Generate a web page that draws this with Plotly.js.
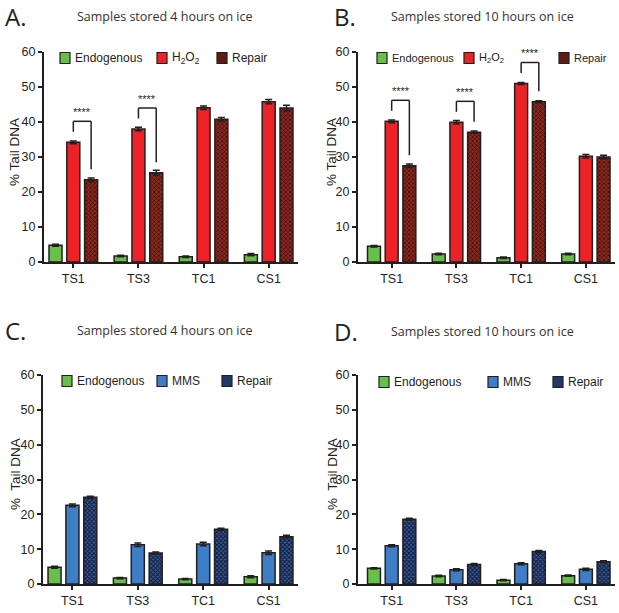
<!DOCTYPE html>
<html>
<head>
<meta charset="utf-8">
<script src="https://cdn.plot.ly/plotly-3.0.1.min.js"></script>
<style>
  body { margin: 0; background: #fff; }
  #chart { width: 619px; height: 613px; }
</style>
</head>
<body>
<div id="chart"></div>
<script>
var W = 619, H = 613;

var categories = ['TS1', 'TS3', 'TC1', 'CS1'];

// A: 4 hours, H2O2
var endoA = [4.8, 1.7, 1.5, 2.1];
var endoAErr = [0.3, 0.2, 0.2, 0.3];
var h2o2A = [34.2, 38.0, 44.1, 45.8];
var h2o2AErr = [0.4, 0.5, 0.5, 0.6];
var repA = [23.5, 25.5, 40.8, 44.0];
var repAErr = [0.5, 0.7, 0.5, 0.8];

// B: 10 hours, H2O2
var endoB = [4.5, 2.3, 1.2, 2.3];
var endoBErr = [0.2, 0.2, 0.2, 0.2];
var h2o2B = [40.2, 39.9, 51.0, 30.2];
var h2o2BErr = [0.4, 0.5, 0.3, 0.5];
var repB = [27.5, 37.1, 45.8, 30.0];
var repBErr = [0.5, 0.3, 0.3, 0.5];

// C: 4 hours, MMS
var endoC = [4.8, 1.7, 1.4, 2.1];
var endoCErr = [0.3, 0.2, 0.2, 0.3];
var mmsC = [22.6, 11.3, 11.5, 9.0];
var mmsCErr = [0.4, 0.5, 0.5, 0.5];
var repC = [24.9, 8.9, 15.7, 13.6];
var repCErr = [0.3, 0.3, 0.3, 0.4];

// D: 10 hours, MMS
var endoD = [4.5, 2.3, 1.1, 2.4];
var endoDErr = [0.2, 0.2, 0.2, 0.2];
var mmsD = [11.0, 4.1, 5.8, 4.2];
var mmsDErr = [0.3, 0.3, 0.3, 0.3];
var repD = [18.6, 5.6, 9.3, 6.4];
var repDErr = [0.3, 0.3, 0.3, 0.3];

// significance brackets: category index, between 2nd and 3rd bar
var sigA = [0, 1];
var sigB = [0, 1, 2];

var INK = '#231f20';
var GREEN = '#66c04a';
var RED = '#ec2227';
var BLUE = '#3d7ec6';
var BARGAP = 0.18, GROUPGAP = 0.27;
var SANS = 'Liberation Sans, Arial, sans-serif';

function px(x){ return x / W; }
function py(y){ return 1 - y / H; }

var panels = [
  {letter: 'A.', title: 'Samples stored 4 hours on ice', ax: '', x0: 44, x1: 298, ytop: 52, ybot: 262, xmin: -0.45,
   titleX: 165, titleY: 17, letterX: 3, ytitleX: 15, ytitleY: 152, ytitle: '% Tail DNA',
   series: [endoA, h2o2A, repA], errs: [endoAErr, h2o2AErr, repAErr],
   names: ['Endogenous', 'H<sub>2</sub>O<sub>2</sub>', 'Repair'], treat: RED, rep: 'brown',
   legX: [60, 157, 217], legY: 58, legSize: 12, sig: sigA},
  {letter: 'B.', title: 'Samples stored 10 hours on ice', ax: '2', x0: 358, x1: 615, ytop: 52, ybot: 262, xmin: -0.52,
   titleX: 482, titleY: 17, letterX: 332, ytitleX: 332, ytitleY: 152, ytitle: '% Tail DNA',
   series: [endoB, h2o2B, repB], errs: [endoBErr, h2o2BErr, repBErr],
   names: ['Endogenous', 'H<sub>2</sub>O<sub>2</sub>', 'Repair'], treat: RED, rep: 'brown',
   legX: [377, 464, 559], legY: 58, legSize: 11, sig: sigB},
  {letter: 'C.', title: 'Samples stored 4 hours on ice', ax: '3', x0: 43, x1: 298, ytop: 375, ybot: 584, xmin: -0.45,
   titleX: 165, titleY: 330, letterX: 3, ytitleX: 15, ytitleY: 474, ytitle: '%\u00a0 Tail DNA',
   series: [endoC, mmsC, repC], errs: [endoCErr, mmsCErr, repCErr],
   names: ['Endogenous', 'MMS', 'Repair'], treat: BLUE, rep: 'navy',
   legX: [62, 157, 222], legY: 381, legSize: 12, sig: []},
  {letter: 'D.', title: 'Samples stored 10 hours on ice', ax: '4', x0: 358, x1: 615, ytop: 375, ybot: 584, xmin: -0.52,
   titleX: 482, titleY: 331, letterX: 332, ytitleX: 332, ytitleY: 474, ytitle: '%\u00a0 Tail DNA',
   series: [endoD, mmsD, repD], errs: [endoDErr, mmsDErr, repDErr],
   names: ['Endogenous', 'MMS', 'Repair'], treat: BLUE, rep: 'navy',
   legX: [379, 488, 553], legY: 382, legSize: 12, sig: []}
];

var repStyles = {
  brown: {color: '#7a2219', pattern: {shape: 'x', fgcolor: '#3b0c08', bgcolor: '#8e2a20', size: 3, solidity: 0.45}, swatch: '#5e1a14'},
  navy: {color: '#1f3566', pattern: {shape: 'x', fgcolor: '#0c1630', bgcolor: '#3a5a99', size: 3, solidity: 0.5}, swatch: '#22386a'}
};

var traces = [];
var shapes = [];
var annotations = [];
var layout = {
  width: W, height: H,
  margin: {l: 0, r: 0, t: 0, b: 0},
  paper_bgcolor: '#fff', plot_bgcolor: '#fff',
  showlegend: false,
  barmode: 'group', bargap: BARGAP, bargroupgap: GROUPGAP,
  font: {family: SANS, color: INK}
};

var slot = (1 - BARGAP) / 3;

panels.forEach(function(p){
  var xa = 'x' + p.ax, ya = 'y' + p.ax;
  var colors = [GREEN, p.treat, repStyles[p.rep].color];

  p.series.forEach(function(vals, k){
    var marker = {color: colors[k], line: {color: INK, width: 1.5}};
    if (k == 2) marker.pattern = repStyles[p.rep].pattern;
    traces.push({
      type: 'bar', x: categories, y: vals, name: p.names[k],
      xaxis: xa, yaxis: ya, marker: marker,
      error_y: {type: 'data', array: p.errs[k], visible: true, color: INK, thickness: 1.5, width: 3.5}
    });
  });

  layout['xaxis' + p.ax] = {
    domain: [px(p.x0), px(p.x1)], anchor: ya, type: 'category',
    range: [p.xmin, 3.45],
    showline: true, linecolor: INK, linewidth: 2,
    ticks: 'outside', ticklen: 4, tickwidth: 2, tickcolor: INK,
    showgrid: false, zeroline: false, fixedrange: true,
    tickfont: {family: SANS, size: 12.5, color: INK}
  };
  layout['yaxis' + p.ax] = {
    domain: [py(p.ybot), py(p.ytop)], anchor: xa,
    range: [0, 60], dtick: 10,
    showline: true, linecolor: INK, linewidth: 2,
    ticks: 'outside', ticklen: 4, tickwidth: 2, tickcolor: INK,
    showgrid: false, zeroline: false, fixedrange: true,
    tickfont: {family: SANS, size: 12.5, color: INK}
  };

  // panel letter, title, y title
  annotations.push({xref: 'paper', yref: 'paper', x: px(p.letterX), y: py(p.titleY), xanchor: 'left', yanchor: 'middle',
    text: p.letter, showarrow: false, font: {family: 'Open Sans, Liberation Sans, sans-serif', size: 24, color: INK}});
  annotations.push({xref: 'paper', yref: 'paper', x: px(p.titleX), y: py(p.titleY), xanchor: 'center', yanchor: 'middle',
    text: p.title, showarrow: false, font: {family: 'Open Sans, Liberation Sans, sans-serif', size: 12.5, color: '#333'}});
  annotations.push({xref: 'paper', yref: 'paper', x: px(p.ytitleX), y: py(p.ytitleY), xanchor: 'center', yanchor: 'middle',
    text: p.ytitle, textangle: -90, showarrow: false, font: {family: SANS, size: 13.5, color: INK}});

  // legend
  p.names.forEach(function(n, k){
    var lx = p.legX[k], ly = p.legY;
    shapes.push({type: 'rect', xref: 'paper', yref: 'paper',
      x0: px(lx), x1: px(lx + 10), y0: py(ly + 5.5), y1: py(ly - 5.5),
      fillcolor: k == 2 ? repStyles[p.rep].swatch : colors[k], line: {color: INK, width: 1.2}});
    annotations.push({xref: 'paper', yref: 'paper', x: px(lx + 13), y: py(ly), xanchor: 'left', yanchor: 'middle',
      text: n, showarrow: false, font: {family: SANS, size: p.legSize, color: INK}});
  });

  // significance brackets between treatment and repair bars
  p.sig.forEach(function(i){
    var a = p.series[1][i], b = p.series[2][i];
    var top = Math.max(a, b) + 6;
    var xl = i, xr = i + slot;
    var line = {color: INK, width: 1.5};
    shapes.push({type: 'line', xref: xa, yref: ya, x0: xl, x1: xr, y0: top, y1: top, line: line});
    shapes.push({type: 'line', xref: xa, yref: ya, x0: xl, x1: xl, y0: top, y1: a + 3, line: line});
    shapes.push({type: 'line', xref: xa, yref: ya, x0: xr, x1: xr, y0: top, y1: b + 3, line: line});
    annotations.push({xref: xa, yref: ya, x: (xl + xr) / 2, y: top + 0.4, yanchor: 'bottom', text: '****',
      showarrow: false, font: {family: SANS, size: 11, color: INK}});
  });
});

layout.shapes = shapes;
layout.annotations = annotations;

Plotly.newPlot('chart', traces, layout, {staticPlot: true});
</script>
</body>
</html>
